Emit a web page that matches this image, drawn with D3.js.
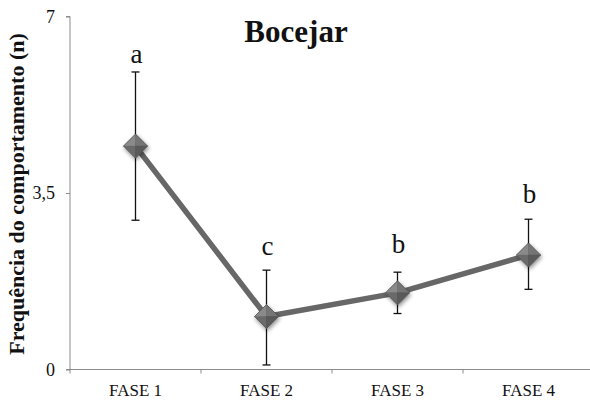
<!DOCTYPE html>
<html>
<head>
<meta charset="utf-8">
<script src="https://cdn.jsdelivr.net/npm/d3@7"></script>
<style>
  html, body { margin: 0; padding: 0; background: #fff; }
  svg { display: block; }
  text { font-family: "Liberation Serif", "Times New Roman", serif; }
</style>
</head>
<body>
<svg id="chart" width="590" height="401"></svg>
<script>
// Bocejar: mean frequency per phase with error bars and group letters
const phases    = ["FASE 1", "FASE 2", "FASE 3", "FASE 4"];
const means     = [4.43, 1.05, 1.52, 2.27];
const errUpper  = [5.90, 1.97, 1.93, 2.98];
const errLower  = [2.96, 0.09, 1.11, 1.59];
const groups    = ["a", "c", "b", "b"];
const groupAt   = [6.08, 2.27, 2.31, 3.30];
const yTicks    = [0, 3.5, 7];
const yTickText = ["0", "3,5", "7"];

const svg = d3.select("#chart");
const W = 590, H = 401;
const plot = { left: 70, right: 594, top: 16.5, bottom: 369.5 };

const x = d3.scaleBand().domain(phases).range([plot.left, plot.right]).paddingInner(0).paddingOuter(0);
const y = d3.scaleLinear().domain([0, 7]).range([plot.bottom, plot.top]);
const cx = p => x(p) + x.bandwidth() / 2;

const defs = svg.append("defs");
const shadow = defs.append("filter").attr("id", "mshadow")
  .attr("x", "-50%").attr("y", "-50%").attr("width", "200%").attr("height", "200%");
shadow.append("feGaussianBlur").attr("in", "SourceAlpha").attr("stdDeviation", 2);
shadow.append("feOffset").attr("dx", 1).attr("dy", 2).attr("result", "b");
shadow.append("feComponentTransfer").append("feFuncA").attr("type", "linear").attr("slope", 0.45);
const merge = shadow.append("feMerge");
merge.append("feMergeNode");
merge.append("feMergeNode").attr("in", "SourceGraphic");

// Axes
const axisColor = "#8a8a8a";
const yAxis = svg.append("g").attr("transform", `translate(${plot.left},0)`)
  .call(d3.axisLeft(y).tickValues(yTicks).tickSize(4).tickFormat((d, i) => yTickText[i]));
yAxis.select(".domain").attr("stroke", axisColor).attr("d", `M-4,${plot.top}H0V${plot.bottom}`);
yAxis.selectAll(".tick line").attr("stroke", axisColor);
yAxis.selectAll(".tick text").attr("font-size", 18).attr("fill", "#111")
  .attr("font-family", "Liberation Serif, serif").attr("x", -15);

const xAxis = svg.append("g").attr("transform", `translate(0,${plot.bottom})`)
  .call(d3.axisBottom(x).tickSize(0));
xAxis.select(".domain").attr("stroke", axisColor).attr("d", `M${plot.left - 4},0H${W}`);
xAxis.selectAll(".tick text").attr("font-size", 17).attr("fill", "#111")
  .attr("font-family", "Liberation Serif, serif").attr("y", 14);
// category boundary ticks
const boundaries = phases.map(p => x(p)).concat([plot.right]);
xAxis.selectAll(".bound").data(boundaries).enter().append("line")
  .attr("x1", d => d).attr("x2", d => d).attr("y1", 0).attr("y2", 4)
  .attr("stroke", axisColor);

// Axis title
svg.append("text")
  .attr("transform", `translate(24,${(plot.top + plot.bottom) / 2 + 1}) rotate(-90)`)
  .attr("text-anchor", "middle")
  .attr("font-size", 22).attr("font-weight", "bold").attr("fill", "#111")
  .text("Frequência do comportamento (n)");

// Title
svg.append("text").attr("x", 296).attr("y", 42).attr("text-anchor", "middle")
  .attr("font-size", 31).attr("font-weight", "bold").attr("fill", "#111")
  .text("Bocejar");

// Line
const line = d3.line().x((d, i) => cx(phases[i])).y(d => y(d));
svg.append("path").datum(means).attr("d", line)
  .attr("fill", "none").attr("stroke", "#676767").attr("stroke-width", 5.5)
  .attr("stroke-linejoin", "round");

// Error bars
const eb = svg.append("g").attr("stroke", "#111").attr("stroke-width", 1.3);
phases.forEach((p, i) => {
  const px = cx(p);
  eb.append("line").attr("x1", px).attr("x2", px).attr("y1", y(errUpper[i])).attr("y2", y(errLower[i]));
  eb.append("line").attr("x1", px - 4).attr("x2", px + 4).attr("y1", y(errUpper[i])).attr("y2", y(errUpper[i]));
  eb.append("line").attr("x1", px - 4).attr("x2", px + 4).attr("y1", y(errLower[i])).attr("y2", y(errLower[i]));
});

// Diamond markers with bevelled facets
const r = 12;
const facets = [
  { pts: [[0, -r], [-r, 0], [0, 0]], fill: "#8a8a8a" },
  { pts: [[0, -r], [r, 0], [0, 0]], fill: "#747474" },
  { pts: [[-r, 0], [0, r], [0, 0]], fill: "#6a6a6a" },
  { pts: [[r, 0], [0, r], [0, 0]], fill: "#5a5a5a" }
];
phases.forEach((p, i) => {
  const g = svg.append("g").attr("transform", `translate(${cx(p)},${y(means[i])})`)
    .attr("filter", "url(#mshadow)");
  facets.forEach(f => {
    g.append("path").attr("d", "M" + f.pts.map(q => q.join(",")).join("L") + "Z")
      .attr("fill", f.fill).attr("stroke", f.fill).attr("stroke-width", 0.5);
  });
  g.append("path").attr("d", `M0,${-r}L${r},0L0,${r}L${-r},0Z`)
    .attr("fill", "none").attr("stroke", "#555").attr("stroke-width", 0.8);
});

// Group letters
svg.selectAll(".grp").data(groups).enter().append("text")
  .attr("x", (d, i) => cx(phases[i]) + 1)
  .attr("y", (d, i) => y(groupAt[i]))
  .attr("text-anchor", "middle")
  .attr("font-size", 27).attr("fill", "#111")
  .text(d => d);
</script>
</body>
</html>
